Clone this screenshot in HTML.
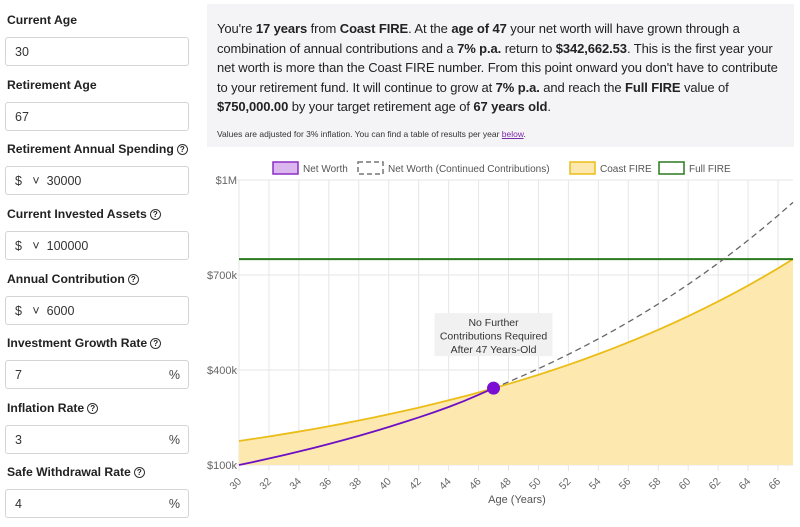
<!DOCTYPE html>
<html><head><meta charset="utf-8"><style>
body{margin:0;width:800px;height:527px;overflow:hidden;background:#fff;font-family:"Liberation Sans",sans-serif;color:#222;position:relative}
.lbl{position:absolute;left:7px;font-weight:bold;font-size:12.2px;color:#222}
.q{display:inline-block;width:9px;height:9px;border:1.3px solid #333;border-radius:50%;font-size:8px;line-height:9px;text-align:center;margin-left:3px;vertical-align:1px;font-weight:bold}
.inp{position:absolute;left:5px;width:184px;height:29px;border:1px solid #d4d4d4;border-radius:3px;font-size:12.5px;line-height:29px;box-sizing:border-box;padding-left:9px;color:#333}
.pct{position:absolute;right:8px;top:0;color:#444}
#info{position:absolute;left:207px;top:4px;width:587px;height:143px;background:#f4f4f6;box-sizing:border-box;padding:15px 10px 0 10px;font-size:13px;letter-spacing:-0.1px;line-height:19.5px;color:#222}
#info small{display:block;font-size:8.5px;margin-top:8px;color:#333;letter-spacing:0}
#info a{color:#7b2aa8;text-decoration:underline}
svg text{font-family:"Liberation Sans",sans-serif}
</style></head><body>
<div class="lbl" style="top:13px">Current Age</div>
<div class="inp" style="top:37px">30</div>
<div class="lbl" style="top:78px">Retirement Age</div>
<div class="inp" style="top:102px">67</div>
<div class="lbl" style="top:142px">Retirement Annual Spending<span class="q">?</span></div>
<div class="inp" style="top:166px">$&nbsp;&nbsp;&nbsp;˅&nbsp;&nbsp;30000</div>
<div class="lbl" style="top:207px">Current Invested Assets<span class="q">?</span></div>
<div class="inp" style="top:231px">$&nbsp;&nbsp;&nbsp;˅&nbsp;&nbsp;100000</div>
<div class="lbl" style="top:272px">Annual Contribution<span class="q">?</span></div>
<div class="inp" style="top:296px">$&nbsp;&nbsp;&nbsp;˅&nbsp;&nbsp;6000</div>
<div class="lbl" style="top:336px">Investment Growth Rate<span class="q">?</span></div>
<div class="inp" style="top:360px">7<span class="pct">%</span></div>
<div class="lbl" style="top:401px">Inflation Rate<span class="q">?</span></div>
<div class="inp" style="top:425px">3<span class="pct">%</span></div>
<div class="lbl" style="top:465px">Safe Withdrawal Rate<span class="q">?</span></div>
<div class="inp" style="top:489px">4<span class="pct">%</span></div>

<div id="info">You're <b>17 years</b> from <b>Coast FIRE</b>. At the <b>age of 47</b> your net worth will have grown through a combination of annual contributions and a <b>7% p.a.</b> return to <b>$342,662.53</b>. This is the first year your net worth is more than the Coast FIRE number. From this point onward you don't have to contribute to your retirement fund. It will continue to grow at <b>7% p.a.</b> and reach the <b>Full FIRE</b> value of <b>$750,000.00</b> by your target retirement age of <b>67 years old</b>.
<small>Values are adjusted for 3% inflation. You can find a table of results per year <a>below</a>.</small></div>

<svg id="chart" width="800" height="527" style="position:absolute;left:0;top:0"></svg>
<script>
const ages=[30,31,32,33,34,35,36,37,38,39,40,41,42,43,44,45,46,47,48,49,50,51,52,53,54,55,56,57,58,59,60,61,62,63,64,65,66,67];
const coastFire=[175722,182751,190062,197664,205571,213794,222346,231240,240489,250108,260113,270517,281338,292591,304295,316467,329126,342291,355983,370222,385031,400431,416448,433106,450430,468447,487185,506672,526939,548017,569938,592735,616445,641103,666747,693417,721154,750000];
const netWorthAges=[30,31,32,33,34,35,36,37,38,39,40,41,42,43,44,45,46,47];
const netWorth=[100000,110000,120400,131216,142465,154163,166330,178983,192142,205828,220061,234863,250258,266268,283200,301500,321500,342663];
const contAges=[47,48,49,50,51,52,53,54,55,56,57,58,59,60,61,62,63,64,65,66,67];
const contValues=[342663,362370,382865,404180,426347,449401,473377,498312,524244,551214,579263,608433,638771,670322,703135,737260,772751,809661,848047,887969,929488];
const fullFire=750000;
const yTicks=[100000,400000,700000,1000000];
const yTickLabels=['$100k','$400k','$700k','$1M'];
const xTicks=[30,32,34,36,38,40,42,44,46,48,50,52,54,56,58,60,62,64,66];
const coastAge=47, coastValue=342663;

const NS='http://www.w3.org/2000/svg';
const svg=document.getElementById('chart');
const X=a=>239+(a-30)*(793-239)/37;
const Y=v=>465-(v-100000)/300000*95;
function mk(t,at,parent){const e=document.createElementNS(NS,t);for(const k in at)e.setAttribute(k,at[k]);(parent||svg).appendChild(e);return e;}
xTicks.forEach(a=>{
 const g=mk('line',{x1:X(a),x2:X(a),y1:180,y2:471,stroke:'#e6e6e6','stroke-width':1});
 
 
 const t=mk('text',{x:X(a)+3,y:482,'font-size':10.5,fill:'#666','text-anchor':'end',transform:`rotate(-45 ${X(a)+3} 482)`});
 t.textContent=a;
 
 
});
yTicks.forEach((v,i)=>{
 const g=mk('line',{x1:233,x2:793,y1:Y(v),y2:Y(v),stroke:'#e6e6e6','stroke-width':1});
 
 
 const t=mk('text',{x:237,y:Y(v)+4,'font-size':11,fill:'#666','text-anchor':'end'});
 t.textContent=yTickLabels[i];
 
 
});
let d='M'+X(ages[0])+','+Y(100000);
ages.forEach((a,i)=>d+=' L'+X(a)+','+Y(coastFire[i]));
d+=' L'+X(ages[ages.length-1])+','+Y(100000)+'Z';
const fill=mk('path',{d:d,fill:'#fde9b0'});


const cl=mk('polyline',{points:ages.map((a,i)=>X(a)+','+Y(coastFire[i])).join(' '),fill:'none',stroke:'#ebbd18','stroke-width':1.8});


const ff=mk('line',{x1:X(30),x2:X(67),y1:Y(fullFire),y2:Y(fullFire),stroke:'#2a7a1e','stroke-width':2});


const cc=mk('polyline',{points:contAges.map((a,i)=>X(a)+','+Y(contValues[i])).join(' '),fill:'none',stroke:'#666','stroke-width':1.3,'stroke-dasharray':'6,4'});


const nw=mk('polyline',{points:netWorthAges.map((a,i)=>X(a)+','+Y(netWorth[i])).join(' '),fill:'none',stroke:'#6d0fc4','stroke-width':1.8});


const dot=mk('circle',{cx:X(coastAge),cy:Y(coastValue),r:6.5,fill:'#7a0fd3'});


const ag=mk('g',{});


mk('rect',{x:X(coastAge)-59,y:Y(coastValue)-75,width:118,height:43,fill:'#f1f1f1'},ag);
['No Further','Contributions Required','After 47 Years-Old'].forEach((s,i)=>{const t=mk('text',{x:X(coastAge),y:Y(coastValue)-62+i*13.5,'font-size':10.5,fill:'#333','text-anchor':'middle'},ag);t.textContent=s;});
const at=mk('text',{x:517,y:503,'font-size':11,fill:'#555','text-anchor':'middle'});
at.textContent='Age (Years)';


const leg=[{x:273,label:'Net Worth',fill:'#dcb7ef',stroke:'#8a2ec5',dash:''},
{x:358,label:'Net Worth (Continued Contributions)',fill:'#fff',stroke:'#777',dash:'5,3'},
{x:570,label:'Coast FIRE',fill:'#fde9b0',stroke:'#ebbd18',dash:''},
{x:659,label:'Full FIRE',fill:'#fff',stroke:'#2a7a1e',dash:''}];
leg.forEach(l=>{
 const g=mk('g',{});
 
 
 mk('rect',{x:l.x,y:162,width:25,height:12,fill:l.fill,stroke:l.stroke,'stroke-width':1.5,'stroke-dasharray':l.dash},g);
 const t=mk('text',{x:l.x+30,y:172,'font-size':10,fill:'#555'},g);t.textContent=l.label;
});
</script>
</body></html>
